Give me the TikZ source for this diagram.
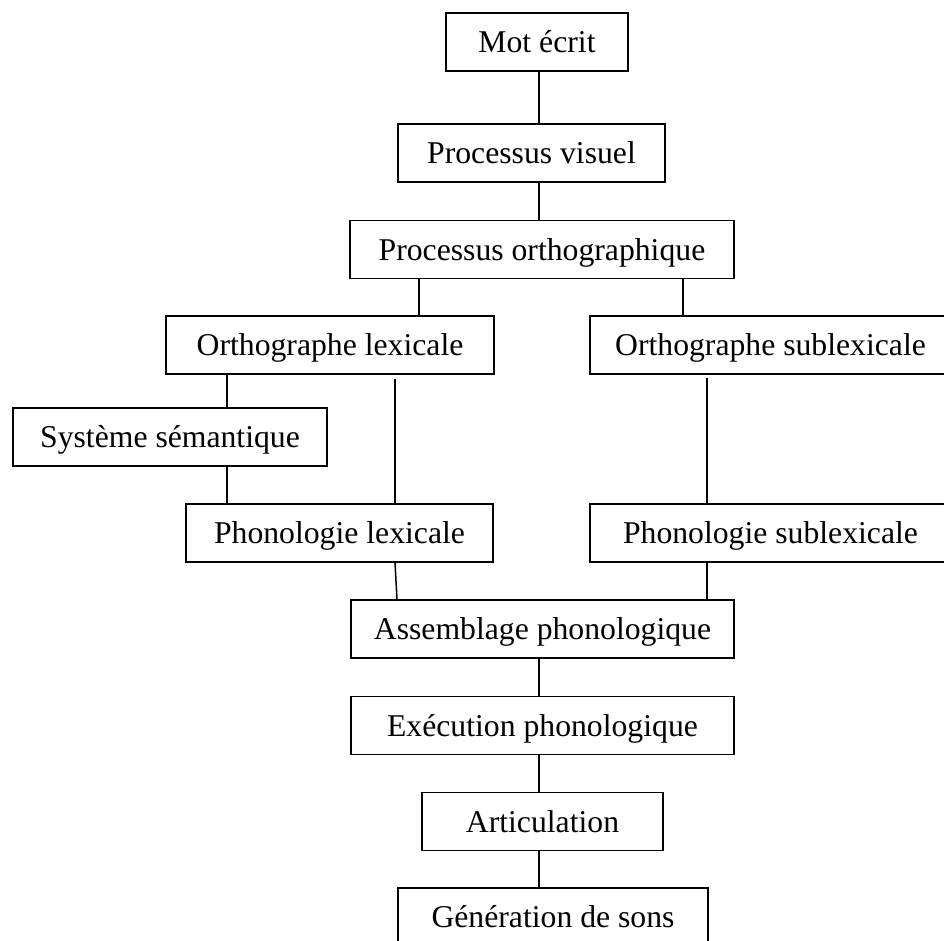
\documentclass[tikz,border=0pt]{standalone}
\usepackage{fontspec}
\setmainfont{Liberation Serif}
\tikzset{
  block/.style={draw, line width=1.5pt, inner sep=0pt, minimum height=58pt,
    text height=21pt, text depth=0pt, font=\fontsize{31.7}{38}\selectfont},
  link/.style={draw, -, line width=1.5pt} % a simple straight line
}

\begin{document}
\begin{tikzpicture}[x=1pt, y=-1pt, every edge/.style={link}]
  \useasboundingbox (0,0) rectangle (944,941);
  \clip (0,0) rectangle (944,941);

  % Columns of the connectors
  \coordinate (mid) at (539,0);
  \coordinate (colol) at (419,0);
  \coordinate (colos) at (683,0);
  \coordinate (colsem) at (227,0);
  \coordinate (collex) at (395,0);
  \coordinate (colsub) at (707,0);

  % Boxes
  \node[block, minimum width=182pt] (mot) at (537,42) {Mot écrit};
  \node[block, minimum width=267pt] (visuel) at (531.5,153) {Processus visuel};
  \node[block, minimum width=384pt] (ortho) at (542,249.5) {Processus orthographique};
  \node[block, minimum width=328pt] (ortholex) at (330,345) {Orthographe lexicale};
  \node[block, minimum width=361pt] (orthosub) at (770.5,345) {Orthographe sublexicale};
  \node[block, minimum width=314pt] (sem) at (170,437) {Système sémantique};
  \node[block, minimum width=307pt] (phonolex) at (339.5,533) {Phonologie lexicale};
  \node[block, minimum width=361pt] (phonosub) at (770.5,533) {Phonologie sublexicale};
  \node[block, minimum width=383pt] (assemb) at (542.5,629) {Assemblage phonologique};
  \node[block, minimum width=383pt] (exec) at (542.5,725.5) {Exécution phonologique};
  \node[block, minimum width=241pt] (artic) at (542.5,821.5) {Articulation};
  \node[block, minimum width=310pt] (sons) at (553,917) {Génération de sons};

  % Connect
  \path (mot.south -| mid) edge (visuel.north -| mid)
        (visuel.south -| mid) edge (ortho.north -| mid)
        (ortho.south -| colol) edge (ortholex.north -| colol)
        (ortho.south -| colos) edge (orthosub.north -| colos)
        (ortholex.south -| colsem) edge (sem.north -| colsem)
        (sem.south -| colsem) edge (phonolex.north -| colsem)
        (ortholex.south -| collex) edge[shorten <=4pt] (phonolex.north -| collex)
        (orthosub.south -| colsub) edge[shorten <=3pt] (phonosub.north -| colsub)
        (phonolex.south -| collex) edge ([xshift=2pt]assemb.north -| collex)
        (phonosub.south -| colsub) edge (assemb.north -| colsub)
        (assemb.south -| mid) edge (exec.north -| mid)
        (exec.south -| mid) edge (artic.north -| mid)
        (artic.south -| mid) edge (sons.north -| mid);
\end{tikzpicture}
\end{document}
